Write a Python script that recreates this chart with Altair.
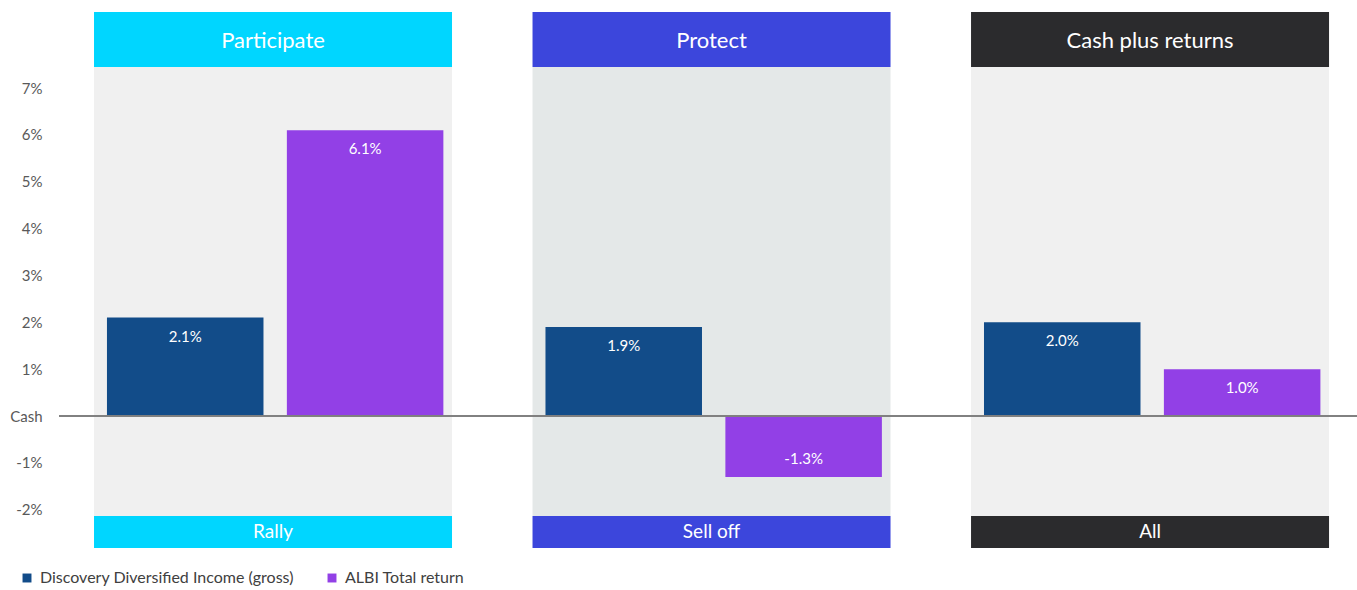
import altair as alt
import pandas as pd

groups = ["Participate", "Protect", "Cash plus returns"]
footers = ["Rally", "Sell off", "All"]
series = ["Discovery Diversified Income (gross)", "ALBI Total return"]
fund_values = [2.1, 1.9, 2.0]
albi_values = [6.1, -1.3, 1.0]
y_ticks = [-2, -1, 0, 1, 2, 3, 4, 5, 6, 7]

header_colors = ["#00D6FF", "#3C46DC", "#2B2B2D"]
panel_colors = ["#F0F0F0", "#E4E8E8", "#F0F0F0"]
bar_colors = ["#124C89", "#9240E6"]
FONT = "Lato"

rows = []
for i, g in enumerate(groups):
    rows.append({"group": g, "series": series[0], "value": fund_values[i]})
    rows.append({"group": g, "series": series[1], "value": albi_values[i]})
bars_df = pd.DataFrame(rows)
groups_df = pd.DataFrame({"group": groups, "footer": footers})

W, H = 1298, 536

xscale = alt.Scale(domain=groups, paddingInner=0.1836, paddingOuter=0.0718, align=0.556)
yscale = alt.Scale(domain=[-2.817, 8.622], nice=False, zero=False)
xenc = alt.X("group:N", scale=xscale, axis=None)
xoff = alt.XOffset("series:N", scale=alt.Scale(domain=series, paddingInner=0.13, paddingOuter=0.06, align=0.6))

panel = alt.Chart(groups_df).mark_rect().encode(
    x=xenc,
    y=alt.value(55), y2=alt.value(504),
    color=alt.Color("group:N", scale=alt.Scale(domain=groups, range=panel_colors), legend=None),
)
header = alt.Chart(groups_df).mark_rect().encode(
    x=xenc,
    y=alt.value(0), y2=alt.value(55),
    color=alt.Color("group:N", scale=alt.Scale(domain=groups, range=header_colors), legend=None),
)
footer = alt.Chart(groups_df).mark_rect().encode(
    x=xenc,
    y=alt.value(504), y2=alt.value(536),
    color=alt.Color("group:N", scale=alt.Scale(domain=groups, range=header_colors), legend=None),
)
header_text = alt.Chart(groups_df).mark_text(
    color="white", font=FONT, fontSize=22, baseline="middle"
).encode(x=xenc, y=alt.value(29), text="group:N")
footer_text = alt.Chart(groups_df).mark_text(
    color="white", font=FONT, fontSize=19, baseline="middle"
).encode(x=xenc, y=alt.value(520), text="footer:N")

bars = alt.Chart(bars_df).mark_bar().encode(
    x=xenc,
    xOffset=xoff,
    y=alt.Y("value:Q", scale=yscale,
            axis=alt.Axis(values=y_ticks, labelExpr="datum.value == 0 ? 'Cash' : datum.value + '%'",
                          title=None, grid=False, domain=False, ticks=False,
                          labelFont=FONT, labelFontSize=15, labelColor="#595959", labelPadding=17)),
    y2=alt.datum(0),
    color=alt.Color("series:N", scale=alt.Scale(domain=series, range=bar_colors),
                    legend=alt.Legend(title=None, orient="none", legendX=-40, legendY=558,
                                      direction="horizontal", symbolType="square", symbolSize=80,
                                      symbolStrokeWidth=0, labelFont=FONT, labelFontSize=16,
                                      labelLimit=0, labelColor="#404040", columnPadding=30,
                                      labelOffset=5)),
)

labels_base = alt.Chart(bars_df).transform_calculate(
    label="(datum.value < 0 ? '-' : '') + format(abs(datum.value), '.1f') + '%'"
)
lab_pos = labels_base.transform_filter("datum.value >= 0").mark_text(
    color="white", font=FONT, fontSize=15, baseline="middle", dy=19
).encode(
    x=xenc, xOffset=xoff,
    y=alt.Y("value:Q", scale=yscale),
    text="label:N",
)
lab_neg = labels_base.transform_filter("datum.value < 0").mark_text(
    color="white", font=FONT, fontSize=15, baseline="middle", dy=-18
).encode(
    x=xenc, xOffset=xoff,
    y=alt.Y("value:Q", scale=yscale),
    text="label:N",
)

zero = alt.Chart(groups_df).mark_rule(color="#7F7F7F", strokeWidth=1.5).encode(
    y=alt.datum(0, scale=yscale), x=alt.value(0), x2=alt.value(W)
)

chart = alt.layer(
    panel, header, footer, header_text, footer_text, bars, zero, lab_pos, lab_neg
).resolve_scale(color="independent").properties(
    width=W, height=H,
    autosize=alt.AutoSizeParams(type="none"),
    padding={"left": 59, "top": 12, "right": 0, "bottom": 42},
    background="white",
).configure_view(stroke=None)

chart.save("out.html", embed_options={"renderer": "svg", "actions": False})
